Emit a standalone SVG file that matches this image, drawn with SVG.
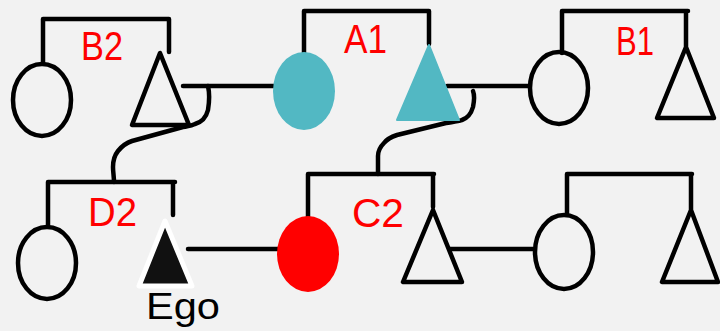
<svg xmlns="http://www.w3.org/2000/svg" width="720" height="331" viewBox="0 0 720 331">
<style>
.ln{fill:none;stroke:#000;stroke-width:4.5;stroke-linecap:round;stroke-linejoin:round}
.open{fill:none;stroke:#000;stroke-width:4.5;stroke-linejoin:round}
.teal{fill:#52b8c3}
.lbl{font-family:"Liberation Sans",Arial,sans-serif;font-size:41px;fill:#ff0000}
.ego{font-family:"Liberation Sans",Arial,sans-serif;font-size:36px;fill:#000}
</style>
<rect width="720" height="331" fill="#f2f2f2"/>
<g id="connectors">
<path class="ln" d="M43,63 V19 H169 V52"/>
<path class="ln" d="M304,54 V11 H429 V44"/>
<path class="ln" d="M562,53 V11 H688 M686,11 V46"/>
<path class="ln" d="M48,225 V182 H175 M173,182 V215"/>
<path class="ln" d="M308,217 V174 H434 M433,174 V207"/>
<path class="ln" d="M567,214 V174 H692 M691,174 V209"/>
<path class="ln" d="M183,86 H275"/>
<path class="ln" d="M447,86 H528"/>
<path class="ln" d="M188,249 H279"/>
<path class="ln" d="M450,249 H533"/>
<path class="ln" d="M208,86 C210,95 209,104 208,110 C206,118 202,122 195,124 C190,126 186,127 183,127 L132,141 C126,143 122,146 118,151 C114,156 113,162 113,167 C113,172 114,177 114,182"/>
<path class="ln" d="M473,91 C475,96 474,102 473,107 C471,114 468,118 462,120 C457,122 451,122 446,123 L397,135 C391,137 387,139 384,143 C380,147 378,151 378,156 C378,162 378,168 378,174"/>
</g>
<g id="B2_wife"><ellipse class="open" cx="42" cy="100" rx="29" ry="36"/></g>
<g id="B2_husband"><path class="open" d="M160,53 L132,125 L189,125 Z"/></g>
<g id="A1_wife"><ellipse class="teal" cx="304" cy="91" rx="31" ry="39"/></g>
<g id="A1_husband"><path class="teal" d="M429,45 L459,120 L397,120 Z" stroke="#52b8c3" stroke-width="2" stroke-linejoin="round"/></g>
<g id="B1_wife"><ellipse class="open" cx="559" cy="88" rx="29" ry="36"/></g>
<g id="B1_husband"><path class="open" d="M686,47 L657,118 L714,118 Z"/></g>
<g id="D2_wife"><ellipse class="open" cx="47" cy="263" rx="29" ry="36"/></g>
<g id="Ego"><path d="M165,221 L139,286 L192,286 Z" fill="#111" stroke="#fff" stroke-width="5" stroke-linejoin="round"/>
<text class="ego" x="146" y="319" textLength="74" lengthAdjust="spacingAndGlyphs">Ego</text></g>
<g id="C2_wife"><ellipse cx="308" cy="254" rx="31" ry="38" fill="#ff0000"/></g>
<g id="C2_husband"><path class="open" d="M433,210 L403,282 L462,282 Z"/></g>
<g id="C1_wife"><ellipse class="open" cx="564" cy="252" rx="29" ry="37"/></g>
<g id="C1_husband"><path class="open" d="M691,210 L662,282 L718,282 Z"/></g>
<g id="labels">
<text class="lbl" x="81" y="60" textLength="42" lengthAdjust="spacingAndGlyphs">B2</text>
<text class="lbl" x="344" y="53" textLength="43" lengthAdjust="spacingAndGlyphs">A1</text>
<text class="lbl" x="616" y="55" textLength="38" lengthAdjust="spacingAndGlyphs">B1</text>
<text class="lbl" x="88" y="226" textLength="49" lengthAdjust="spacingAndGlyphs">D2</text>
<text class="lbl" x="352" y="227" textLength="52" lengthAdjust="spacingAndGlyphs">C2</text>
</g>
</svg>
